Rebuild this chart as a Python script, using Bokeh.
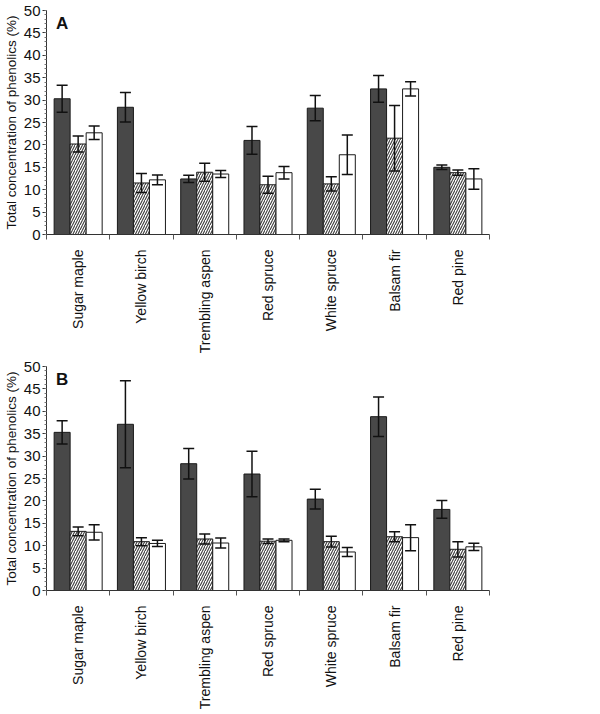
import numpy as np
from bokeh.plotting import figure
from bokeh.models import Range1d, FixedTicker, SingleIntervalTicker, ColumnDataSource, Whisker, Label, TeeHead
from bokeh.layouts import column
from bokeh.embed import file_html
from bokeh.resources import INLINE

species = ["Sugar maple", "Yellow birch", "Trembling aspen", "Red spruce",
           "White spruce", "Balsam fir", "Red pine"]

a_dark = [30.3, 28.4, 12.4, 21.0, 28.2, 32.5, 15.0]
a_dark_err = [3.0, 3.3, 0.8, 3.1, 2.8, 3.0, 0.5]
a_hatch = [20.2, 11.5, 13.9, 11.1, 11.3, 21.5, 13.8]
a_hatch_err = [1.8, 2.1, 2.0, 1.9, 1.6, 7.3, 0.6]
a_white = [22.7, 12.2, 13.5, 13.8, 17.8, 32.5, 12.4]
a_white_err = [1.5, 1.1, 0.8, 1.4, 4.4, 1.6, 2.3]

b_dark = [35.3, 37.1, 28.3, 26.0, 20.4, 38.8, 18.1]
b_dark_err = [2.6, 9.7, 3.4, 5.1, 2.2, 4.4, 2.0]
b_hatch = [13.2, 10.9, 11.5, 11.0, 10.9, 12.0, 9.2]
b_hatch_err = [1.0, 0.9, 1.1, 0.5, 1.2, 1.1, 1.7]
b_white = [13.0, 10.5, 10.6, 11.2, 8.6, 11.8, 9.75]
b_white_err = [1.7, 0.7, 1.1, 0.3, 1.0, 2.9, 0.8]

y_label = "Total concentration of phenolics (%)"
FONT = "Liberation Sans"
BW = 0.253


def make_panel(letter, series, top_border, bottom_border):
    p = figure(output_backend="svg", toolbar_location=None,
               frame_width=443, frame_height=224,
               x_range=Range1d(0, len(species)), y_range=Range1d(0, 50),
               min_border_left=30, min_border_right=10,
               min_border_top=top_border, min_border_bottom=bottom_border)
    p.outline_line_color = None
    p.grid.visible = False
    p.background_fill_color = "white"
    p.border_fill_color = "white"

    centers = np.arange(len(species)) + 0.5
    styles = [
        dict(fill_color="#484848"),
        dict(fill_color="white", hatch_pattern="/", hatch_color="#3c3c3c",
             hatch_scale=5, hatch_weight=1.1),
        dict(fill_color="white"),
    ]
    for k, (vals, errs) in enumerate(series):
        x = centers + (k - 1) * BW
        v = np.array(vals)
        e = np.array(errs)
        src = ColumnDataSource(dict(x=x, top=v, upper=v + e, lower=v - e))
        p.vbar(x="x", top="top", width=BW, bottom=0, source=src,
               line_color="#1a1a1a", line_width=1, **styles[k])
        w = Whisker(source=src, base="x", upper="upper", lower="lower",
                    line_color="#111111", line_width=1.5, level="overlay",
                    upper_head=TeeHead(size=11, line_color="#111111", line_width=1.5),
                    lower_head=TeeHead(size=11, line_color="#111111", line_width=1.5))
        p.add_layout(w)

    # x axis
    xa = p.xaxis[0]
    xa.ticker = FixedTicker(ticks=list(centers), minor_ticks=list(range(len(species) + 1)))
    xa.major_label_overrides = {float(c): s for c, s in zip(centers, species)}
    xa.major_label_orientation = np.pi / 2
    xa.major_tick_out = 0
    xa.major_tick_in = 0
    xa.minor_tick_out = 5
    xa.minor_tick_in = 0
    xa.major_label_standoff = 10
    xa.major_label_text_font = FONT
    xa.major_label_text_font_size = "14px"
    xa.major_label_text_color = "#111111"
    xa.axis_line_color = "#333333"
    xa.minor_tick_line_color = "#555555"

    ya = p.yaxis[0]
    ya.ticker = SingleIntervalTicker(interval=5, num_minor_ticks=5)
    ya.major_tick_out = 4
    ya.major_tick_in = 0
    ya.minor_tick_out = 2
    ya.minor_tick_in = 0
    ya.major_label_standoff = 2
    ya.major_label_text_font = FONT
    ya.major_label_text_font_size = "15px"
    ya.major_label_text_color = "#111111"
    ya.axis_label = y_label
    ya.axis_label_text_font = FONT
    ya.axis_label_text_font_size = "13.5px"
    ya.axis_label_text_font_style = "normal"
    ya.axis_label_text_color = "#111111"
    ya.axis_label_standoff = 2
    ya.axis_line_color = "#333333"
    ya.major_tick_line_color = "#333333"
    ya.minor_tick_line_color = "#777777"

    p.add_layout(Label(x=0.15, y=50, text=letter, text_font=FONT,
                       text_font_style="bold", text_font_size="17px",
                       text_baseline="top", y_offset=-3, text_color="#111111"))
    return p


pa = make_panel("A", [(a_dark, a_dark_err), (a_hatch, a_hatch_err), (a_white, a_white_err)], 10, 112)
pb = make_panel("B", [(b_dark, b_dark_err), (b_hatch, b_hatch_err), (b_white, b_white_err)], 10, 112)

layout = column(pa, pb, spacing=0)
open("out.html", "w").write(file_html(layout, INLINE))
